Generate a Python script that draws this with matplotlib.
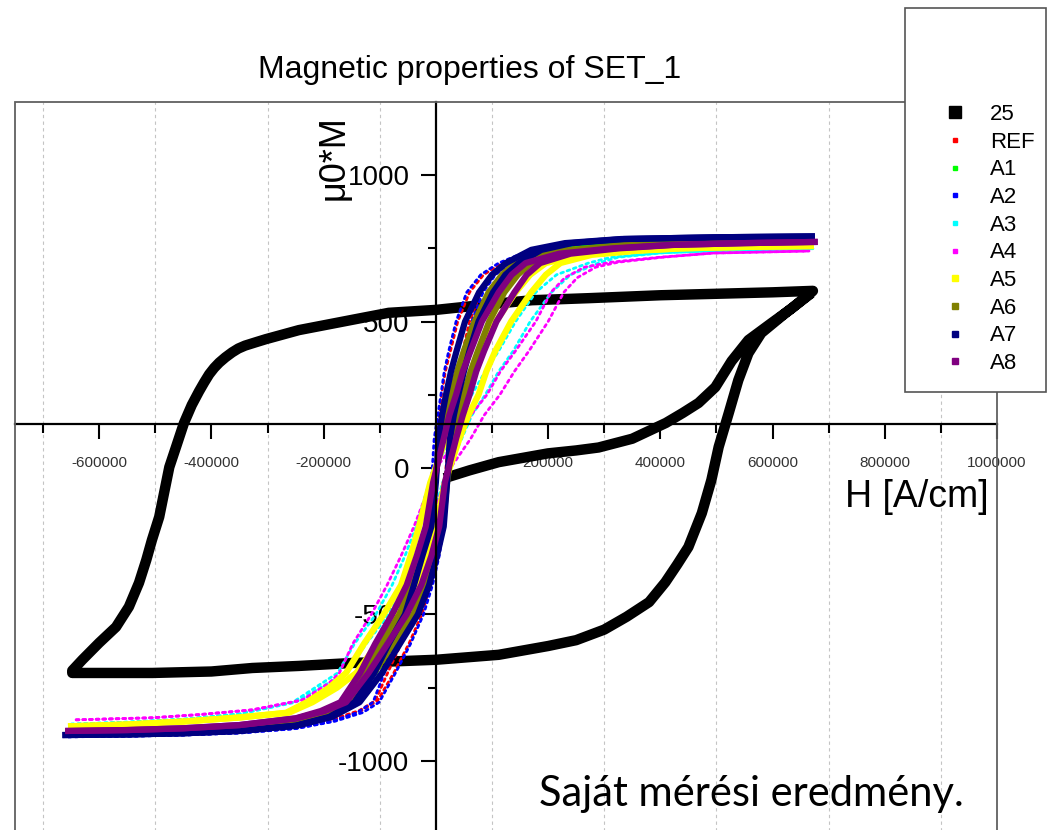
import numpy as np
import matplotlib
matplotlib.use('Agg')
import matplotlib.pyplot as plt
from matplotlib.lines import Line2D
from matplotlib.patches import Rectangle
from matplotlib.ticker import FixedLocator, FuncFormatter

plt.rcParams['font.family'] = ['Liberation Sans', 'DejaVu Sans']
plt.rcParams['axes.unicode_minus'] = False

# field H in kA/cm (plotted in A/cm), magnetisation mu0*M
# sample 25: virgin curve, descending branch, ascending branch (one path)
h_25 = [15, 60, 112, 200, 250, 290, 350, 410, 440, 468, 498, 527, 557, 598, 634, 668,
        672, 600, 500, 400, 272, 171, 100, 0, -84, -125, -244, -303, -320, -340, -352,
        -363, -375, -386, -395, -404, -413, -422, -435, -449, -463, -475, -493, -506,
        -516, -529, -547, -570, -600, -630, -648,
        -648, -600, -505, -400, -327, -244, -150, 0, 112, 200, 250, 300, 340, 380, 409,
        430, 450, 474, 491, 504, 522, 539, 557, 580, 623, 669]
m_25 = [-35, -8, 20, 50, 60, 70, 100, 154, 188, 222, 276, 365, 437, 495, 545, 598,
        605, 600, 595, 590, 580, 573, 560, 540, 530, 515, 471, 440, 430, 418, 408,
        395, 378, 360, 342, 320, 292, 262, 215, 153, 72, 3, -167, -246,
        -314, -392, -474, -543, -597, -655, -692,
        -700, -700, -700, -695, -683, -676, -666, -655, -638, -608, -588, -552, -508, -458, -390,
        -330, -270, -154, -41, 72, 188, 300, 392, 461, 529, 597]

# other samples: M levels, H on the descending (dn) and ascending (up) branch
m_ref = [-912, -910, -906, -899, -884, -858, -828, -795, -700, -600, -500, -400, -300, -200,
         -50, 100, 250, 330, 400, 500, 600, 660, 700, 728, 750, 774, 784, 789]
h_ref_dn = [-655, -550, -450, -350, -250, -183, -136, -108, -86, -62, -40, -26, -16, -8,
            -2, 2, 10, 17, 26, 39, 60, 85, 118, 155, 200, 315, 490, 670]
h_ref_up = [-655, -550, -450, -350, -250, -180, -132, -104, -75, -48, -25, -10, 2, 10,
            16, 22, 30, 38, 48, 60, 80, 104, 130, 162, 206, 318, 490, 670]

m_a1 = [-905, -902, -897, -888, -868, -840, -800, -700, -600, -500, -400, -300, -200, -50,
        100, 180, 250, 330, 400, 500, 600, 660, 700, 738, 757, 770, 778, 782]
h_a1_dn = [-655, -550, -450, -350, -250, -195, -150, -118, -90, -62, -44, -28, -12, -2,
           5, 13, 24, 36, 50, 68, 96, 120, 145, 190, 250, 350, 500, 670]
h_a1_up = [-655, -550, -450, -350, -250, -190, -142, -106, -70, -36, -14, 2, 14, 22,
           27, 35, 46, 60, 75, 94, 124, 148, 172, 210, 262, 355, 500, 670]

m_a2 = [-918, -916, -912, -905, -890, -865, -835, -800, -700, -600, -500, -400, -300, -200,
        -50, 100, 250, 330, 400, 500, 600, 660, 700, 730, 754, 778, 788, 792]
h_a2_dn = [-655, -550, -450, -350, -250, -185, -140, -112, -92, -68, -48, -34, -24, -16,
           -8, -3, 9, 15, 23, 36, 55, 80, 112, 150, 196, 313, 491, 672]
h_a2_up = [-655, -550, -450, -350, -250, -180, -130, -101, -72, -45, -22, -6, 6, 14,
           18, 24, 34, 44, 52, 64, 84, 106, 132, 165, 205, 318, 491, 672]

m_a3 = [-875, -868, -858, -840, -800, -750, -700, -600, -500, -400, -300, -200, -50,
        100, 180, 250, 330, 400, 500, 600, 660, 700, 720, 735, 742, 749]
h_a3_dn = [-650, -550, -450, -350, -255, -215, -175, -145, -107, -78, -55, -35, -12,
           25, 42, 64, 88, 112, 142, 178, 215, 272, 313, 400, 500, 672]
h_a3_up = [-650, -550, -450, -350, -250, -206, -160, -124, -84, -54, -30, -10, 12,
           46, 64, 88, 112, 138, 168, 206, 240, 290, 325, 405, 500, 672]

m_a4 = [-860, -853, -842, -826, -792, -734, -700, -600, -500, -400, -300, -200, -80, 0,
        100, 180, 250, 330, 400, 500, 600, 650, 686, 703, 720, 734, 741]
h_a4_dn = [-641, -505, -420, -327, -238, -190, -172, -148, -115, -87, -62, -39, -15, 0,
           41, 62, 91, 115, 142, 178, 205, 230, 265, 313, 400, 494, 665]
h_a4_up = [-641, -505, -420, -327, -236, -182, -160, -130, -92, -60, -34, -12, 10, 26,
           62, 86, 114, 140, 166, 200, 228, 252, 285, 325, 405, 494, 665]

m_a5 = [-882, -876, -866, -852, -836, -800, -750, -700, -600, -500, -400, -300, -200, -50,
        100, 180, 250, 330, 400, 500, 600, 660, 700, 728, 742, 750, 755, 758]
h_a5_dn = [-650, -550, -450, -350, -267, -230, -190, -160, -128, -93, -62, -45, -30, -10,
           18, 35, 53, 66, 80, 107, 142, 168, 196, 260, 350, 433, 550, 668]
h_a5_up = [-650, -550, -450, -350, -262, -220, -176, -142, -104, -66, -34, -16, 0, 16,
           42, 58, 76, 90, 106, 134, 170, 196, 222, 278, 360, 436, 550, 668]

m_a6 = [-905, -902, -897, -888, -868, -840, -800, -700, -600, -500, -400, -300, -200, -50,
        100, 180, 250, 330, 400, 500, 600, 660, 700, 735, 750, 770, 778, 782]
h_a6_dn = [-655, -550, -450, -350, -250, -200, -160, -125, -98, -65, -45, -30, -12, -2,
           9, 17, 27, 38, 50, 69, 94, 118, 142, 190, 272, 380, 520, 670]
h_a6_up = [-655, -550, -450, -350, -248, -194, -150, -110, -76, -40, -18, -3, 12, 20,
           30, 39, 50, 62, 75, 95, 122, 146, 170, 210, 285, 385, 520, 670]

m_a7 = [-912, -910, -906, -898, -880, -850, -800, -700, -600, -500, -400, -300, -200, -50,
        100, 180, 250, 330, 400, 500, 600, 660, 700, 745, 768, 782, 788, 791]
h_a7_dn = [-660, -550, -450, -350, -250, -190, -145, -110, -84, -55, -39, -24, -8, 0,
           5, 11, 18, 27, 37, 52, 77, 100, 125, 170, 230, 330, 500, 670]
h_a7_up = [-660, -550, -450, -350, -248, -185, -136, -96, -64, -32, -12, 2, 14, 20,
           25, 32, 40, 50, 60, 76, 102, 124, 148, 188, 242, 335, 500, 670]

m_a8 = [-898, -895, -889, -878, -855, -830, -800, -700, -600, -500, -400, -300, -200, -50,
        100, 180, 250, 330, 400, 500, 600, 660, 700, 732, 750, 762, 768, 772]
h_a8_dn = [-655, -550, -450, -350, -250, -205, -170, -135, -108, -78, -52, -34, -18, -5,
           14, 24, 36, 48, 62, 82, 112, 135, 160, 220, 313, 420, 550, 675]
h_a8_up = [-655, -550, -450, -350, -248, -198, -160, -120, -86, -52, -26, -8, 6, 16,
           36, 48, 60, 72, 86, 108, 140, 162, 186, 240, 325, 425, 550, 675]

labels = ['25', 'REF', 'A1', 'A2', 'A3', 'A4', 'A5', 'A6', 'A7', 'A8']
colors = ['#000000', '#FF0000', '#00FF00', '#0000FF', '#00FFFF', '#FF00FF',
          '#FFFF00', '#808000', '#000080', '#800080']
samples = [
    (m_ref, h_ref_dn, h_ref_up), (m_a1, h_a1_dn, h_a1_up), (m_a2, h_a2_dn, h_a2_up),
    (m_a3, h_a3_dn, h_a3_up), (m_a4, h_a4_dn, h_a4_up), (m_a5, h_a5_dn, h_a5_up),
    (m_a6, h_a6_dn, h_a6_up), (m_a7, h_a7_dn, h_a7_up), (m_a8, h_a8_dn, h_a8_up),
]

x_major = [-600000, -400000, -200000, 0, 200000, 400000, 600000, 800000, 1000000]
x_minor = [-700000, -500000, -300000, -100000, 100000, 300000, 500000, 700000, 900000]
y_major = [-1000, -500, 0, 500, 1000]
y_minor = [-750, -250, 250, 750]

fig = plt.figure(figsize=(10.5, 8.3), dpi=100)
ax = fig.add_axes([15 / 1050, 1 - 834 / 830, 982 / 1050, 732 / 830])

ax.plot(np.array(h_25) * 1000, m_25, color=colors[0], lw=7.5,
        solid_joinstyle='round', solid_capstyle='butt')

for lab, c, (m, h_dn, h_up) in zip(labels[1:], colors[1:], samples):
    for h in (h_dn, h_up):
        hx = np.array(h) * 1000
        if lab in ('A5', 'A6', 'A7', 'A8'):
            ax.plot(hx, m, color=c, lw=4.5, solid_joinstyle='round')
        else:
            ax.plot(hx, m, color=c, lw=2, linestyle=(0, (1, 1.4)),
                    dash_capstyle='round')

ax.set_xlim(-750000, 1000000)
ax.set_ylim(-1250, 1250)

# axes crossing inside the plot, Origin style
ax.spines['left'].set_position(('data', 0))
ax.spines['bottom'].set_position(('data', 150))
ax.spines['top'].set_visible(False)
ax.spines['right'].set_visible(False)
for s in ('left', 'bottom'):
    ax.spines[s].set_linewidth(1.6)
ax.add_patch(Rectangle((0, 0), 1, 1, transform=ax.transAxes, fill=False,
                       ec='#606060', lw=1.3, clip_on=False, zorder=3))

ax.xaxis.set_major_locator(FixedLocator(x_major))
ax.xaxis.set_minor_locator(FixedLocator(x_minor))
ax.yaxis.set_major_locator(FixedLocator(y_major))
ax.yaxis.set_minor_locator(FixedLocator(y_minor))
ax.xaxis.set_major_formatter(FuncFormatter(lambda v, p: '' if v == 0 else '%d' % v))
ax.tick_params(axis='x', which='major', direction='out', length=11, width=1.5,
               pad=12, labelsize=11, labelcolor='#333333')
ax.tick_params(axis='x', which='minor', direction='out', length=6.5, width=1.5)
ax.tick_params(axis='y', which='major', direction='out', length=11, width=1.5,
               pad=8, labelsize=20)
ax.tick_params(axis='y', which='minor', direction='out', length=6, width=1.5)
ax.grid(True, which='minor', axis='x', color='#c4c4c4', linestyle=(0, (3, 3)), lw=0.8)

fig.text(470 / 1050, 1 - 70 / 830, 'Magnetic properties of SET_1',
         ha='center', va='center', fontsize=23)
fig.text(334 / 1050, 1 - 158 / 830, 'μ0*M', rotation=90,
         ha='center', va='center', fontsize=26)
fig.text(917 / 1050, 1 - 497 / 830, 'H [A/cm]', ha='center', va='center', fontsize=27)
fig.text(751 / 1050, 1 - 794 / 830, 'Saját mérési eredmény.', family='Lato',
         ha='center', va='center', fontsize=30)

# legend box
fig.add_artist(Rectangle((905 / 1050, 1 - 392 / 830), 141 / 1050, 384 / 830,
                         transform=fig.transFigure, fc='white', ec='#555555',
                         lw=1.2, zorder=4))
sizes = [8, 2.5, 2.5, 2.5, 2.5, 2.5, 4.5, 4.5, 4.5, 4.5]
handles = [Line2D([], [], marker='s', ls='none', color=c, mec=c, markersize=s)
           for c, s in zip(colors, sizes)]
leg = fig.legend(handles, labels, loc='upper left',
                 bbox_to_anchor=(944.6 / 1050, 1 - 104 / 830),
                 frameon=False, fontsize=16, borderpad=0, borderaxespad=0,
                 handlelength=0.94, handletextpad=1.1, labelspacing=0.3)
leg.set_zorder(6)

fig.savefig('out.png', dpi=100)
